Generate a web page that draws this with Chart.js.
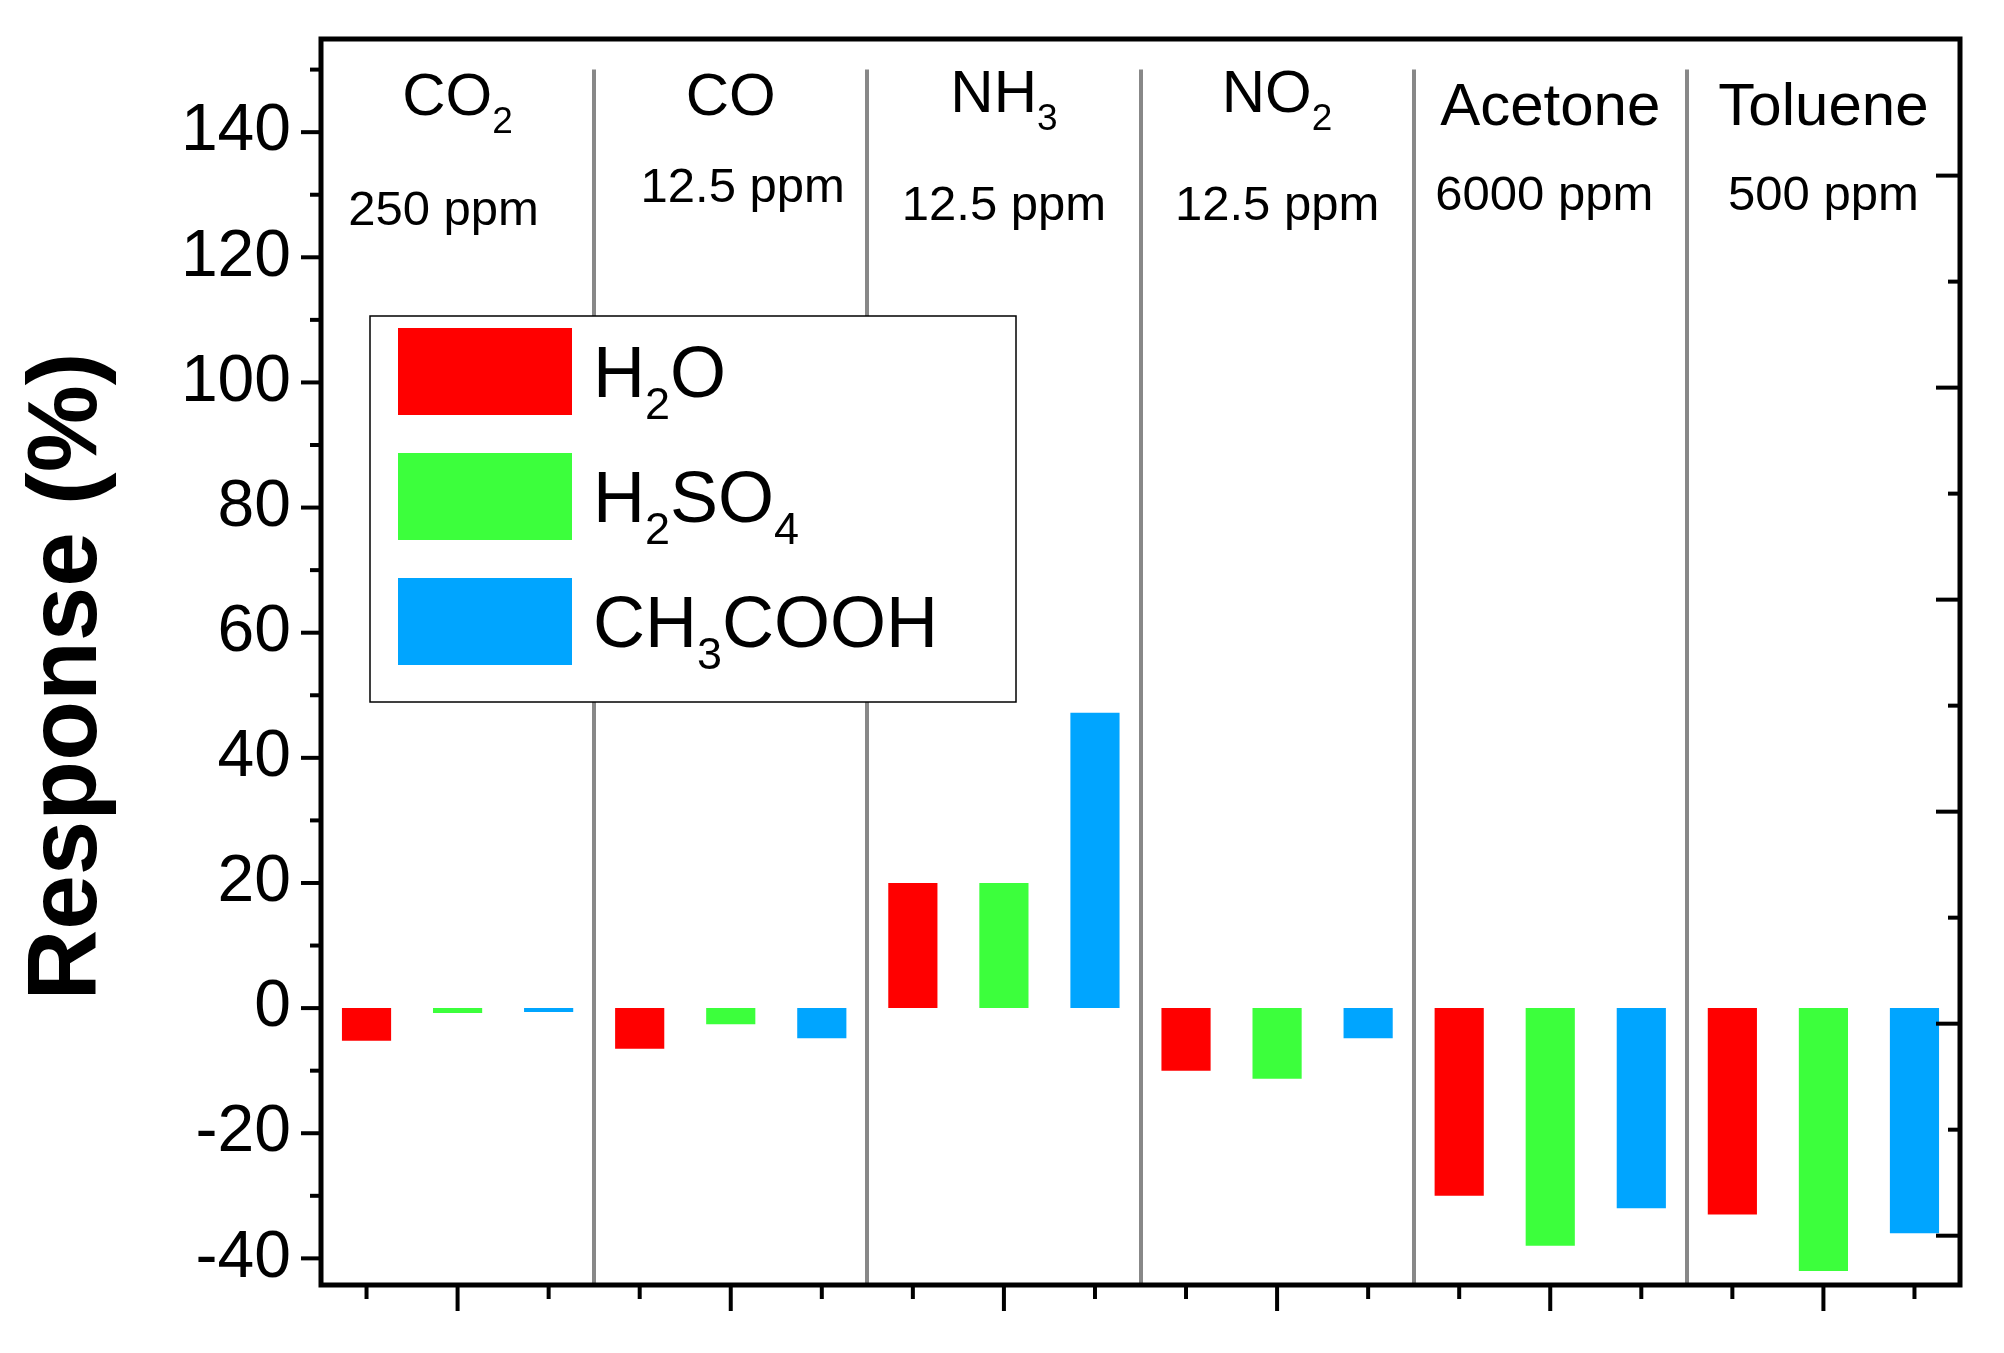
<!DOCTYPE html>
<html><head><meta charset="utf-8">
<script src="https://cdn.jsdelivr.net/npm/chart.js@4"></script>
<style>html,body{margin:0;padding:0;background:#fff}#c{display:block}</style>
</head><body>
<div style="width:2004px;height:1353px"><canvas id="c" width="2004" height="1353"></canvas></div>
<script>
const categories = ["CO2","CO","NH3","NO2","Acetone","Toluene"];
const h2o   = [-5.2, -6.5, 20, -10, -30, -33];
const h2so4 = [-0.8, -2.6, 20, -11.3, -38, -42];
const ch3cooh = [-0.5, -4.8, 47.2, -4.8, -32, -36];
const seriesNames = ["H2O","H2SO4","CH3COOH"];
const yTicks = [-40,-20,0,20,40,60,80,100,120,140];
// category label parts: [main, subscript], concentration
const catLabels = [["CO","2"],["CO",""],["NH","3"],["NO","2"],["Acetone",""],["Toluene",""]];
const concLabels = ["250 ppm","12.5 ppm","12.5 ppm","12.5 ppm","6000 ppm","500 ppm"];
const legendParts = [[["H",""],["2","s"],["O",""]],[["H",""],["2","s"],["SO",""],["4","s"]],[["CH",""],["3","s"],["COOH",""]]];
const colors = ["#FF0000","#3CFF3C","#00A5FF"];

const FONT = "'Liberation Sans', Arial, sans-serif";
const L=321,R=1960,T=39,B=1285;

function drawParts(ctx, parts, x, y, size, align){
  // parts: [text, 's' for subscript]
  const big = size+"px "+FONT, small = Math.round(size*0.62)+"px "+FONT;
  let w=0;
  parts.forEach(p=>{ctx.font=p[1]==='s'?small:big; w+=ctx.measureText(p[0]).width;});
  let cx = align==='center'? x-w/2 : x;
  ctx.textBaseline='alphabetic'; ctx.textAlign='left';
  parts.forEach(p=>{
    ctx.font=p[1]==='s'?small:big;
    ctx.fillText(p[0], cx, p[1]==='s'? y+size*0.3 : y);
    cx += ctx.measureText(p[0]).width;
  });
}

const deco = {
  id:'deco',
  afterDraw(chart){
    const ctx=chart.ctx, y=chart.scales.y, x=chart.scales.x, yr=chart.scales.y2;
    ctx.save();
    ctx.strokeStyle='#000'; ctx.fillStyle='#000';
    // frame
    ctx.lineWidth=5;
    ctx.strokeRect(L,T,R-L,B-T);
    // left ticks
    ctx.lineWidth=4;
    for(let v=-40; v<=150; v+=10){
      const py=y.getPixelForValue(v);
      ctx.beginPath(); ctx.moveTo(L,py); ctx.lineTo(L-(v%20===0?20:11),py); ctx.stroke();
    }
    // right ticks (inward)
    for(let v=0; v<=10; v++){
      const py=yr.getPixelForValue(v);
      ctx.beginPath(); ctx.moveTo(R,py); ctx.lineTo(R-(v%2===0?24:12),py); ctx.stroke();
    }
    // bottom ticks at bar centers
    chart.data.datasets.forEach((ds,di)=>{
      chart.getDatasetMeta(di).data.forEach(el=>{
        ctx.beginPath(); ctx.moveTo(el.x,B); ctx.lineTo(el.x,B+(di===1?26:14)); ctx.stroke();
      });
    });
    // category labels
    const nameY=[115,115,112,112,125,125], concY=[225,202,220,220,210,210];
    const nameDx=[0,0,0,0,0,0];
    categories.forEach((c,i)=>{
      const cx=x.getPixelForValue(i);
      drawParts(ctx, [[catLabels[i][0],""],[catLabels[i][1],"s"]], cx+nameDx[i], nameY[i], 60, 'center');
      ctx.font="49px "+FONT; ctx.textAlign='center';
      ctx.fillText(concLabels[i], cx+[-14,12,0,0,-6,0][i], concY[i]);
    });
    // legend
    ctx.lineWidth=1.5; ctx.fillStyle='#fff';
    ctx.fillRect(370,316,646,386); ctx.strokeRect(370,316,646,386);
    const rows=[371,496,621];
    seriesNames.forEach((n,i)=>{
      ctx.fillStyle=colors[i];
      ctx.fillRect(398,rows[i]-43,174,87);
      ctx.fillStyle='#000';
      drawParts(ctx, legendParts[i], 593, rows[i]+26, 72, 'left');
    });
    ctx.restore();
  }
};

new Chart(document.getElementById('c'),{
  type:'bar',
  data:{labels:categories,datasets:[
    {label:seriesNames[0],data:h2o,backgroundColor:colors[0]},
    {label:seriesNames[1],data:h2so4,backgroundColor:colors[1]},
    {label:seriesNames[2],data:ch3cooh,backgroundColor:colors[2]}
  ]},
  options:{
    responsive:false,animation:false,
    layout:{padding:{left:10,right:0,top:T,bottom:0}},
    datasets:{bar:{categoryPercentage:1,barPercentage:0.54,minBarLength:4}},
    plugins:{legend:{display:false},tooltip:{enabled:false}},
    scales:{
      x:{offset:true,
        grid:{offset:true,color:'#888',lineWidth:4,borderDash:[1,25],drawTicks:false},
        border:{display:false},
        ticks:{display:false},
        afterFit:s=>{s.height=1353-B;}},
      y:{min:-44,max:150,
        afterBuildTicks:s=>{s.ticks=yTicks.map(v=>({value:v}));},
        grid:{display:false,drawTicks:false},
        border:{display:false},
        ticks:{color:'#000',font:{size:66,family:FONT},padding:30},
        title:{display:true,text:'Response (%)',color:'#000',font:{size:98,weight:'bold',family:FONT},padding:{top:0,bottom:8}},
        afterFit:s=>{s.width=L-10;}},
      y2:{position:'right',min:-0.45,max:11,
        grid:{display:false,drawTicks:false},border:{display:false},
        ticks:{display:false},afterFit:s=>{s.width=2004-R;}}
    }
  },
  plugins:[deco]
});
</script>
</body></html>
